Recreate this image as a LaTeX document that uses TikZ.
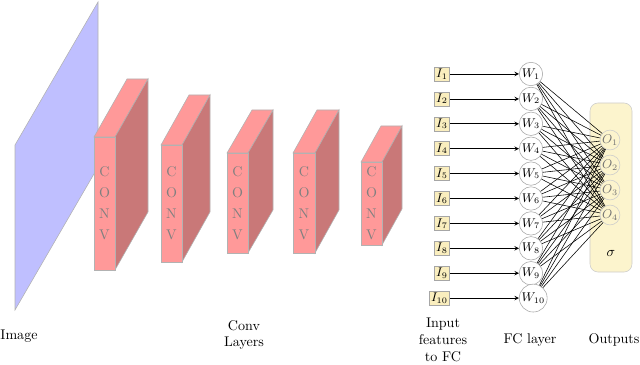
\documentclass[tikz,border=0pt]{standalone}
\usetikzlibrary{arrows,positioning,calc}
\definecolor{convred}{RGB}{255,153,153}
\definecolor{convside}{RGB}{201,120,120}
\definecolor{imgblue}{RGB}{191,191,255}
\definecolor{inyellow}{RGB}{250,238,190}
\definecolor{outyellow}{RGB}{252,244,205}

\begin{document}
\begin{tikzpicture}[x=0.025cm, y=-0.025cm,
    face/.style={draw=gray!60, line width=0.4pt},
    inbox/.style={draw=gray!70, fill=inyellow, inner sep=1.4pt, font=\small},
    fcnode/.style={circle, draw=gray!70, fill=white, inner sep=0.7pt, font=\small},
    outnode/.style={circle, draw=gray!40, text=gray!90!black, inner sep=0.3pt, font=\small},
    outbox/.style={draw=gray!40, fill=outyellow, rounded corners=0.2cm, minimum width=1.05cm, minimum height=4.225cm},
    lbl/.style={align=center}]
        \useasboundingbox (0,0) rectangle (640,365);
        % Image plane
        \draw[face, fill=imgblue] (15,145) -- (98,2) -- (98,167) -- (15,310) -- cycle;
        % Conv blocks: left/right/top/bottom/depth x/depth y
        \foreach \xl/\xr/\yt/\yb/\dx/\dy [count=\i] in {94/115/137/270/33/-58, 161/182/145/262/28/-50, 227/248/153/253/25/-43, 293/315/153/253/24/-43, 361/382/162/245/20/-36}{
            \draw[face, fill=convred] (\xl,\yt) -- ++(\dx,\dy) -- (\xr+\dx,\yt+\dy) -- (\xr,\yt) -- cycle;
            \draw[face, fill=convside] (\xr,\yt) -- ++(\dx,\dy) -- (\xr+\dx,\yb+\dy) -- (\xr,\yb) -- cycle;
            \draw[face, fill=convred] (\xl,\yt) rectangle (\xr,\yb);
            \node[text=gray, align=center, font=\fontsize{10}{15}\selectfont] (conv\i) at ({(\xl+\xr)/2},{(\yt+\yb)/2}) {C\\O\\N\\V};
        }
        % Output box
        \node[outbox] (outs) at (611,187.5) {};
        \node[above=0.28cm of outs.south] (sig) {$\sigma$};
        \foreach \j in {1,...,4}
            \node[outnode] (O\j) at (610,{140+25*(\j-1)}) {$O_{\j}$};
        % Inputs and FC layer
        \foreach \i in {1,...,10}{
            \node[inbox, anchor=east] (I\i) at (450,{74+24.9*(\i-1)}) {$I_{\i}$};
            \node[fcnode, anchor=west] (W\i) at (519,{74+24.9*(\i-1)}) {$W_{\i}$};
            \draw[->, >=stealth, line width=0.45pt] (I\i) -- (W\i);
        }
        \foreach \i in {1,...,10}
            \foreach \j in {1,...,4}
                \draw[line width=0.4pt] (W\i) -- (O\j);
        % Labels
        \node[lbl] (imglbl) at (19,336) {Image};
        \node[lbl] (convlbl) at (244,335) {Conv\\Layers};
        \node[lbl] (inlbl) at (443,340) {Input\\features\\to FC};
        \node[lbl] (fclbl) at (530,340) {FC layer};
        \node[lbl] (outlbl) at (614,340) {Outputs};
\end{tikzpicture}
\end{document}
